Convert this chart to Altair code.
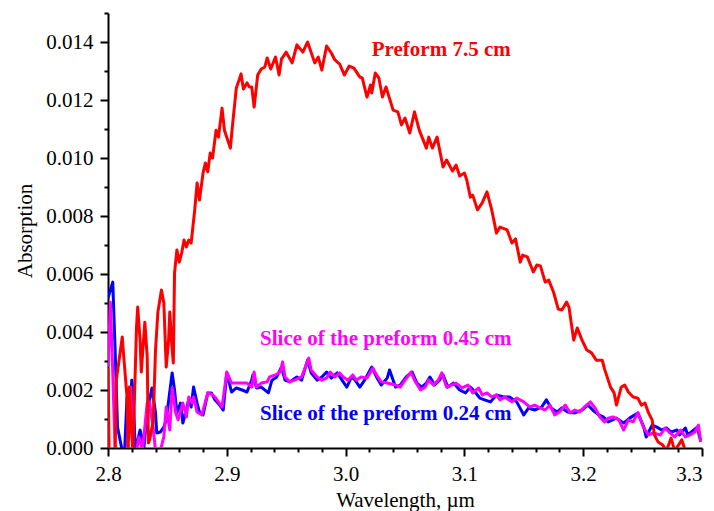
import altair as alt
import pandas as pd

# Preform 7.5 cm (red)
red_x = [2.800, 2.801, 2.806, 2.807, 2.812, 2.813, 2.816, 2.817, 2.818, 2.819, 2.821, 2.824, 2.825, 2.827, 2.828,
         2.831, 2.833, 2.834, 2.835, 2.838, 2.840, 2.842, 2.845, 2.847, 2.849, 2.851, 2.852, 2.854, 2.855, 2.856,
         2.858, 2.860, 2.862, 2.864, 2.866, 2.868, 2.870, 2.873, 2.875, 2.877, 2.880, 2.882, 2.884, 2.886, 2.888,
         2.891, 2.893, 2.896, 2.898, 2.903, 2.905, 2.908, 2.912, 2.914, 2.917, 2.919, 2.921, 2.923, 2.926, 2.929,
         2.932, 2.934, 2.937, 2.941, 2.944, 2.946, 2.950, 2.955, 2.959, 2.964, 2.968, 2.974, 2.977, 2.980, 2.984,
         2.988, 2.991, 2.995, 2.999, 3.003, 3.007, 3.012, 3.014, 3.018, 3.021, 3.022, 3.025, 3.028, 3.031, 3.034,
         3.040, 3.044, 3.047, 3.050, 3.054, 3.058, 3.062, 3.068, 3.070, 3.073, 3.077, 3.082, 3.085, 3.090, 3.093,
         3.096, 3.100, 3.102, 3.105, 3.107, 3.111, 3.115, 3.119, 3.123, 3.127, 3.130, 3.136, 3.140, 3.143, 3.147,
         3.149, 3.153, 3.158, 3.161, 3.164, 3.168, 3.171, 3.175, 3.179, 3.182, 3.186, 3.188, 3.192, 3.195, 3.199,
         3.203, 3.207, 3.211, 3.216, 3.218, 3.223, 3.226, 3.228, 3.232, 3.235, 3.238, 3.242, 3.246, 3.249, 3.252,
         3.255, 3.258, 3.260, 3.263, 3.267, 3.270, 3.274, 3.277, 3.283, 3.286]
red_y = [0.00276, -0.0003, -0.0002, 0.00234, 0.00383, 0.00328, 0.00176, -0.0001, 0.0021, 0.00097, -0.0001, 0.00417,
         0.00486, 0.00372, 0.00262, 0.00434, 0.00314, 0.00017, 0.00028, 0.0009, 0.00338, 0.00469, 0.00545, 0.0050,
         0.00279, 0.00372, 0.00469, 0.00338, 0.00293, 0.00603, 0.00683, 0.00641, 0.00672, 0.00717, 0.00693, 0.00717,
         0.00707, 0.00821, 0.00914, 0.00855, 0.00948, 0.00983, 0.00952, 0.01017, 0.0100, 0.01096, 0.01072, 0.01172,
         0.01096, 0.01034, 0.01121, 0.01241, 0.0129, 0.01238, 0.01259, 0.01245, 0.01245, 0.01176, 0.01286, 0.01307,
         0.01314, 0.01345, 0.01307, 0.01348, 0.01286, 0.01341, 0.01365, 0.01328, 0.0139, 0.01365, 0.0140, 0.01328,
         0.01348, 0.01303, 0.01386, 0.01362, 0.01338, 0.01324, 0.01286, 0.01317, 0.0131, 0.01279, 0.01276, 0.0121,
         0.01252, 0.01224, 0.01293, 0.01276, 0.0121, 0.01245, 0.01165, 0.01159, 0.01114, 0.01138, 0.01086, 0.01159,
         0.01096, 0.01034, 0.01072, 0.01034, 0.01072, 0.00969, 0.00993, 0.00955, 0.00976, 0.00938, 0.00948, 0.00924,
         0.00865, 0.00872, 0.00821, 0.00845, 0.00883, 0.00821, 0.00741, 0.00762, 0.00752, 0.00707, 0.00721, 0.00641,
         0.00665, 0.00659, 0.00607, 0.00631, 0.00628, 0.00572, 0.00579, 0.00538, 0.00479, 0.00476, 0.00503, 0.00486,
         0.00372, 0.00414, 0.00372, 0.00338, 0.00328, 0.00303, 0.00303, 0.00272, 0.0021, 0.0019, 0.00148, 0.0021,
         0.00217, 0.00193, 0.00176, 0.00172, 0.00148, 0.00155, 0.00121, 0.00097, 0.00045, 0.00021, 0.0001, -0.0001,
         0.00034, -0.0001, 0.00028, -0.0001]

# Slice of the preform 0.24 cm (blue)
blue_x = [2.800, 2.804, 2.806, 2.808, 2.812, 2.814, 2.816, 2.817, 2.820, 2.821, 2.823, 2.827, 2.828, 2.830, 2.834,
          2.835, 2.837, 2.840, 2.841, 2.844, 2.847, 2.849, 2.854, 2.856, 2.858, 2.861, 2.863, 2.868, 2.870, 2.872,
          2.875, 2.877, 2.880, 2.884, 2.887, 2.890, 2.894, 2.897, 2.900, 2.904, 2.908, 2.913, 2.917, 2.921, 2.922,
          2.925, 2.929, 2.935, 2.938, 2.942, 2.946, 2.949, 2.953, 2.959, 2.963, 2.968, 2.971, 2.976, 2.980, 2.984,
          2.988, 2.993, 2.997, 3.001, 3.005, 3.008, 3.012, 3.016, 3.022, 3.026, 3.030, 3.035, 3.037, 3.042, 3.046,
          3.051, 3.056, 3.060, 3.064, 3.068, 3.071, 3.075, 3.079, 3.082, 3.086, 3.091, 3.096, 3.101, 3.105, 3.109,
          3.113, 3.117, 3.122, 3.127, 3.133, 3.138, 3.144, 3.150, 3.154, 3.159, 3.165, 3.169, 3.173, 3.178, 3.182,
          3.187, 3.193, 3.199, 3.204, 3.208, 3.213, 3.217, 3.221, 3.228, 3.234, 3.239, 3.246, 3.251, 3.253, 3.258,
          3.262, 3.266, 3.270, 3.274, 3.279, 3.281, 3.286, 3.288, 3.296, 3.299]
blue_y = [0.00517, 0.00572, 0.00338, 0.00072, -0.0001, -0.0001, 0.00176, 0.00028, 0.00234, 0.0020, -0.0001, 0.00062,
          0.00045, -0.0001, 0.00176, 0.00166, 0.00207, 0.00121, 0.00052, 0.00055, 0.00072, 0.00097, 0.00259, 0.0020,
          0.00121, 0.00155, 0.00086, 0.00166, 0.00141, 0.0021, 0.00155, 0.00124, 0.00114, 0.0019, 0.0019, 0.00166,
          0.00148, 0.00131, 0.00259, 0.00193, 0.00207, 0.0020, 0.00193, 0.00234, 0.00252, 0.00207, 0.0021, 0.0019,
          0.00234, 0.00245, 0.00279, 0.00234, 0.00228, 0.00245, 0.00234, 0.00303, 0.00259, 0.00234, 0.00245, 0.00262,
          0.00241, 0.00259, 0.00234, 0.0021, 0.00245, 0.00234, 0.0021, 0.00234, 0.00279, 0.00245, 0.00217, 0.00241,
          0.00269, 0.0021, 0.00217, 0.00245, 0.00262, 0.00224, 0.0021, 0.00224, 0.00245, 0.00217, 0.00234, 0.00252,
          0.0021, 0.00224, 0.0020, 0.0019, 0.0021, 0.00193, 0.00172, 0.00166, 0.00159, 0.00183, 0.00176, 0.00176,
          0.00159, 0.00114, 0.00138, 0.00131, 0.00141, 0.00166, 0.00138, 0.00124, 0.00138, 0.00124, 0.00121, 0.00131,
          0.00148, 0.00131, 0.00114, 0.00107, 0.0009, 0.00103, 0.00086, 0.00103, 0.00121, 0.00072, 0.00038, 0.00079,
          0.00072, 0.00062, 0.00069, 0.00055, 0.00062, 0.00045, 0.00069, 0.00045, 0.00072, 0.00021]

# Slice of the preform 0.45 cm (magenta)
mag_x = [2.800, 2.802, 2.804, 2.806, 2.816, 2.819, 2.821, 2.824, 2.826, 2.828, 2.829, 2.833, 2.835, 2.836, 2.838,
         2.840, 2.844, 2.847, 2.849, 2.852, 2.854, 2.857, 2.859, 2.863, 2.866, 2.868, 2.871, 2.872, 2.875, 2.879,
         2.884, 2.887, 2.890, 2.896, 2.900, 2.904, 2.911, 2.917, 2.921, 2.923, 2.925, 2.929, 2.934, 2.936, 2.941,
         2.945, 2.947, 2.949, 2.953, 2.957, 2.963, 2.969, 2.971, 2.976, 2.980, 2.984, 2.987, 2.991, 2.995, 2.998,
         3.002, 3.006, 3.009, 3.013, 3.018, 3.023, 3.026, 3.030, 3.035, 3.042, 3.046, 3.050, 3.055, 3.058, 3.063,
         3.067, 3.070, 3.074, 3.078, 3.081, 3.085, 3.089, 3.093, 3.098, 3.103, 3.107, 3.112, 3.115, 3.119, 3.123,
         3.127, 3.130, 3.134, 3.140, 3.144, 3.150, 3.155, 3.159, 3.164, 3.168, 3.172, 3.176, 3.180, 3.185, 3.189,
         3.193, 3.197, 3.201, 3.206, 3.210, 3.214, 3.218, 3.221, 3.225, 3.230, 3.234, 3.238, 3.242, 3.246, 3.251,
         3.255, 3.259, 3.265, 3.269, 3.273, 3.277, 3.282, 3.286, 3.290, 3.294, 3.297, 3.299]
mag_y = [0.0028, 0.00503, 0.00259, -0.0001, -0.0001, 0.0021, -0.0001, -0.0001, 0.00038, 0.0001, -0.0001, 0.00155,
         0.00159, 0.00124, 0.00072, -0.0001, -0.0001, 0.00038, 0.00141, 0.00062, 0.00207, 0.00121, 0.00097, 0.00155,
         0.00107, 0.00176, 0.00155, 0.00176, 0.00124, 0.00114, 0.0019, 0.00186, 0.00176, 0.00141, 0.00262, 0.00224,
         0.00224, 0.00224, 0.0021, 0.00262, 0.0021, 0.00224, 0.00228, 0.00245, 0.00252, 0.00262, 0.00297, 0.00245,
         0.00228, 0.00234, 0.00245, 0.0031, 0.00269, 0.00245, 0.00234, 0.00241, 0.00262, 0.00245, 0.00259, 0.00245,
         0.00234, 0.00252, 0.00234, 0.00245, 0.00241, 0.00276, 0.00252, 0.00228, 0.00224, 0.00217, 0.0021, 0.00234,
         0.00262, 0.00234, 0.0020, 0.0021, 0.00234, 0.00217, 0.00234, 0.00259, 0.0021, 0.00217, 0.00224, 0.00207,
         0.00217, 0.0019, 0.00207, 0.00183, 0.0019, 0.00176, 0.00183, 0.00166, 0.00176, 0.00159, 0.00172, 0.00159,
         0.00141, 0.00148, 0.00138, 0.00131, 0.00148, 0.00114, 0.00124, 0.00148, 0.00121, 0.00131, 0.00124, 0.00141,
         0.00159, 0.00138, 0.00107, 0.0009, 0.00103, 0.00107, 0.00097, 0.00062, 0.00097, 0.0009, 0.00121, 0.00069,
         0.00045, 0.00052, 0.00045, 0.00069, 0.00052, 0.00038, 0.00062, 0.00038, 0.00045, 0.00055, 0.00079, 0.00021]

# Annotations
label_text = ["Preform 7.5 cm", "Slice of the preform 0.45 cm", "Slice of the preform 0.24 cm"]
label_x = [3.022, 2.928, 2.928]
label_y = [0.01352, 0.00355, 0.00097]
label_color = ["#FF0000", "#FF00FF", "#0000FF"]

# Axis ticks
x_ticks = [2.80, 2.82, 2.84, 2.86, 2.88, 2.90, 2.92, 2.94, 2.96, 2.98, 3.00, 3.02, 3.04, 3.06, 3.08, 3.10,
           3.12, 3.14, 3.16, 3.18, 3.20, 3.22, 3.24, 3.26, 3.28, 3.30]
y_ticks = [0.000, 0.001, 0.002, 0.003, 0.004, 0.005, 0.006, 0.007, 0.008, 0.009, 0.010, 0.011, 0.012, 0.013,
           0.014, 0.015]

FONT = "Liberation Serif"

df_red = pd.DataFrame({"x": red_x, "y": red_y})
df_blue = pd.DataFrame({"x": blue_x, "y": blue_y})
df_mag = pd.DataFrame({"x": mag_x, "y": mag_y})
df_lab = pd.DataFrame({"x": label_x, "y": label_y, "t": label_text, "c": label_color})

xscale = alt.Scale(domain=[2.8, 3.3], nice=False, zero=False)
yscale = alt.Scale(domain=[0, 0.015], nice=False)

X_MAJOR = "abs(datum.value*10 - round(datum.value*10)) < 0.001"
Y_MAJOR = "abs(datum.value*500 - round(datum.value*500)) < 0.001"

xaxis = alt.Axis(
    title="Wavelength, \u00b5m", values=x_ticks,
    labelExpr=X_MAJOR + " ? format(datum.value, '.1f') : ''",
    tickSize={"condition": {"test": X_MAJOR, "value": 8}, "value": 4},
    labelAlign={"condition": {"test": "datum.value > 3.29", "value": "right"}, "value": "center"},
    labelPadding=7, titlePadding=5, grid=False, labelOverlap=False, labelFlush=False, labelBound=False,
)
yaxis = alt.Axis(
    title="Absorption", values=y_ticks,
    labelExpr=Y_MAJOR + " ? format(datum.value, '.3f') : ''",
    tickSize={"condition": {"test": Y_MAJOR, "value": 8}, "value": 4},
    labelPadding=7, titlePadding=10, grid=False, labelOverlap=False, labelFlush=False, labelBound=False,
)

def line(df, color):
    return alt.Chart(df).mark_line(color=color, strokeWidth=3, clip=True, strokeJoin="round").encode(
        x=alt.X("x:Q", scale=xscale, axis=xaxis),
        y=alt.Y("y:Q", scale=yscale, axis=yaxis),
        order="x:Q",
    )

texts = alt.Chart(df_lab).mark_text(
    align="left", baseline="alphabetic", font=FONT, fontSize=21, fontWeight="bold"
).encode(
    x=alt.X("x:Q", scale=xscale, axis=xaxis),
    y=alt.Y("y:Q", scale=yscale, axis=yaxis),
    text="t:N",
    color=alt.Color("c:N", scale=None),
)

chart = alt.layer(
    line(df_blue, "#0000FF"), line(df_mag, "#FF00FF"), line(df_red, "#FF0000"), texts
).properties(
    width=594, height=435,
    autosize=alt.AutoSizeParams(type="none"),
    padding={"left": 100, "top": 5, "right": 4, "bottom": 63},
    background="white",
).configure_view(stroke=None).configure_axis(
    domainColor="black", domainWidth=2, tickColor="black", tickWidth=2,
    labelFont=FONT, labelFontSize=21, labelColor="black",
    titleFont=FONT, titleFontSize=21, titleFontWeight="normal", titleColor="black",
)

chart.save("out.html", embed_options={"renderer": "svg", "actions": False})
